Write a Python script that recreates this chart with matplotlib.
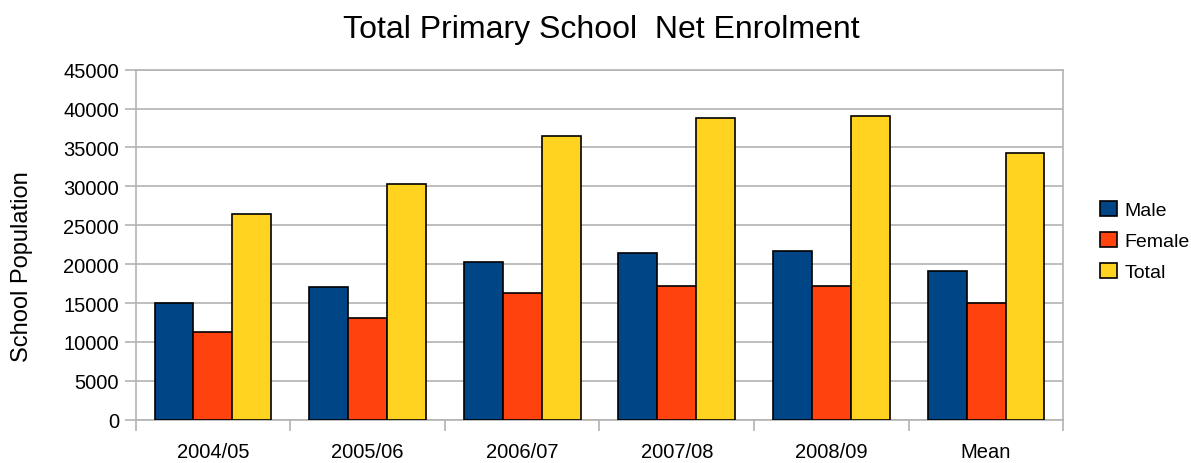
import numpy as np
import matplotlib
matplotlib.use("Agg")
import matplotlib.pyplot as plt
from matplotlib.patches import Patch

plt.rcParams["font.family"] = ["Liberation Sans", "DejaVu Sans"]

categories = ["2004/05", "2005/06", "2006/07", "2007/08", "2008/09", "Mean"]
male = [15050, 17000, 20250, 21450, 21700, 19100]
female = [11300, 13050, 16250, 17250, 17250, 15000]
total = [26400, 30350, 36500, 38750, 39000, 34350]
series_names = ["Male", "Female", "Total"]
colors = ["#004586", "#ff420e", "#ffd320"]

fig = plt.figure(figsize=(11.91, 4.64), dpi=100)
ax = fig.add_axes([0.1139, 0.0933, 0.7789, 0.7543])

x = np.arange(len(categories))
w = 0.252
for i, (vals, c) in enumerate(zip([male, female, total], colors)):
    ax.bar(x + (i - 1) * w, vals, width=w, color=c, edgecolor="black",
           linewidth=1.2, zorder=3)

ax.set_xlim(-0.5, len(categories) - 0.5)
ax.set_ylim(0, 45000)
ax.set_yticks(np.arange(0, 45001, 5000))
ax.yaxis.grid(True, color="#b3b3b3", linewidth=1.2, zorder=0)
ax.set_axisbelow(True)

ax.set_xticks(x)
ax.set_xticklabels(categories)
ax.set_xticks(np.arange(-0.5, len(categories), 1), minor=True)
ax.tick_params(axis="x", which="major", length=0, pad=16, labelsize=14.5)
ax.tick_params(axis="x", which="minor", length=8, color="#b3b3b3", width=1.2)
ax.tick_params(axis="y", length=8, color="#b3b3b3", width=1.2, pad=4,
               labelsize=14.5)

for s in ax.spines.values():
    s.set_color("#b3b3b3")
    s.set_linewidth(1.2)

fig.text(22 / 1191, 1 - 267 / 464, "School Population", rotation=90,
         ha="center", va="center", fontsize=17)
fig.text(601 / 1191, 1 - 30 / 464, "Total Primary School  Net Enrolment",
         ha="center", va="center", fontsize=23)

handles = [Patch(facecolor=c, edgecolor="black", linewidth=1.2) for c in colors]
fig.legend(handles, series_names, loc="center left",
           bbox_to_anchor=(1100 / 1191, 1 - 242 / 464), frameon=False,
           fontsize=14, handlelength=0.85, handleheight=0.8,
           handletextpad=0.4, labelspacing=0.65, borderpad=0, borderaxespad=0)

fig.savefig("out.png", dpi=100)
